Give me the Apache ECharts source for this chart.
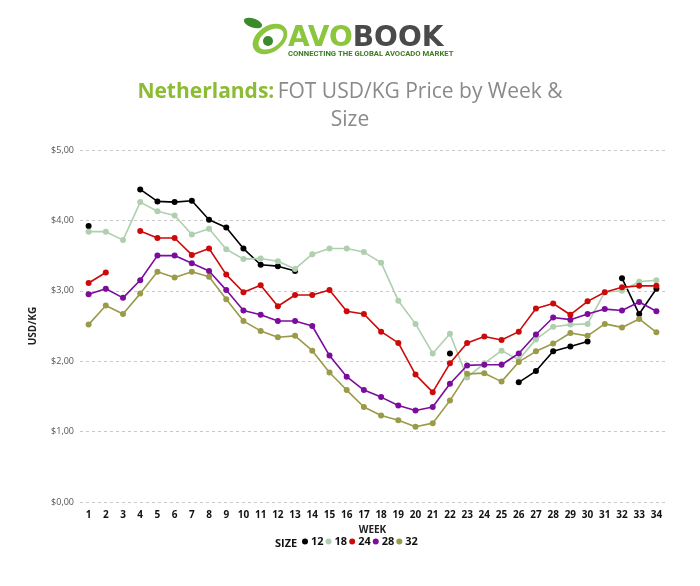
<!DOCTYPE html>
<html>
<head>
<meta charset="utf-8">
<script src="https://cdn.jsdelivr.net/npm/echarts@6/dist/echarts.min.js"></script>
<style>
html,body{margin:0;padding:0;background:#fff;}
#chart{width:700px;height:586px;}
</style>
</head>
<body>
<div id="chart"></div>
<script>
var weeks = ['1','2','3','4','5','6','7','8','9','10','11','12','13','14','15','16','17','18','19','20','21','22','23','24','25','26','27','28','29','30','31','32','33','34'];
var sizeNames = ['12','18','24','28','32'];
var size12 = [3.92,null,null,4.44,4.27,4.26,4.28,4.01,3.90,3.60,3.37,3.35,3.28,null,null,null,null,null,null,null,null,2.11,null,null,null,1.70,1.86,2.14,2.21,2.28,null,3.18,2.67,3.03];
var size18 = [3.84,3.84,3.72,4.26,4.13,4.07,3.80,3.88,3.59,3.45,3.46,3.42,3.31,3.52,3.60,3.60,3.55,3.40,2.86,2.53,2.11,2.39,1.77,1.97,2.15,2.02,2.31,2.49,2.52,2.53,2.98,3.00,3.13,3.15];
var size24 = [3.11,3.26,null,3.85,3.75,3.75,3.51,3.60,3.23,2.98,3.08,2.78,2.94,2.94,3.01,2.71,2.67,2.42,2.26,1.81,1.56,1.97,2.26,2.35,2.30,2.42,2.75,2.82,2.66,2.85,2.98,3.05,3.07,3.07];
var size28 = [2.95,3.03,2.90,3.15,3.50,3.50,3.39,3.28,3.01,2.72,2.66,2.57,2.57,2.50,2.08,1.78,1.59,1.49,1.37,1.30,1.35,1.68,1.94,1.95,1.95,2.11,2.38,2.62,2.59,2.67,2.74,2.72,2.84,2.71];
var size32 = [2.52,2.79,2.67,2.96,3.27,3.19,3.27,3.20,2.88,2.57,2.43,2.34,2.36,2.15,1.84,1.59,1.35,1.23,1.16,1.07,1.12,1.44,1.82,1.83,1.71,1.99,2.14,2.25,2.40,2.36,2.53,2.48,2.60,2.41];
var colors = ['#000000','#afcfae','#cc0a0a','#7b0c9c','#9a9a48'];

var seriesData = [size12,size18,size24,size28,size32];
var series = sizeNames.map(function(name,i){
  return {
    name: name,
    type: 'line',
    data: seriesData[i],
    symbol: 'circle',
    symbolSize: 6,
    connectNulls: false,
    lineStyle: {width: 1.6, color: colors[i]},
    itemStyle: {color: colors[i]},
    emphasis: {disabled: true}
  };
});

var chart = echarts.init(document.getElementById('chart'), null, {renderer:'canvas'});
chart.setOption({
  animation: false,
  color: colors,
  grid: {left: 80, right: 35, top: 150, bottom: 84, containLabel: false},
  xAxis: {
    type: 'category',
    data: weeks,
    boundaryGap: true,
    name: 'WEEK',
    nameLocation: 'middle',
    nameGap: 22,
    nameTextStyle: {fontFamily: 'Open Sans', fontWeight: 'bold', fontSize: 10, color: '#222'},
    axisLine: {show: false},
    axisTick: {show: false},
    axisLabel: {fontFamily: 'Open Sans', fontWeight: 'bold', fontSize: 10, color: '#111', margin: 8, interval: 0},
    splitLine: {show: false}
  },
  yAxis: {
    type: 'value',
    min: 0, max: 5, interval: 1,
    name: 'USD/KG',
    nameLocation: 'middle',
    nameGap: 42,
    nameRotate: 90,
    nameTextStyle: {fontFamily: 'Open Sans', fontWeight: 'bold', fontSize: 10, color: '#222'},
    axisLine: {show: false},
    axisTick: {show: false},
    axisLabel: {
      fontFamily: 'Open Sans', fontSize: 9, color: '#555', margin: 6,
      formatter: function(v){ return '$' + v.toFixed(2).replace('.', ','); }
    },
    splitLine: {show: true, lineStyle: {type: [3,3], color: '#c8c8c8', width: 1}}
  },
  legend: {
    data: sizeNames,
    left: 302,
    top: 536,
    padding: 0,
    icon: 'circle',
    itemWidth: 6,
    itemHeight: 6,
    itemGap: 2,
    textStyle: {fontFamily: 'Open Sans', fontWeight: 'bold', fontSize: 11, color: '#111', padding: [0,0,0,-2]}
  },
  graphic: [
    {type:'text', x: 275, y: 543.5, style:{text:'SIZE', fontFamily:'Open Sans', fontWeight:'bold', fontSize:11, fill:'#111', verticalAlign:'middle'}},
    // logo icon
    {type:'ellipse', shape:{cx:270, cy:39, rx:19, ry:13}, rotation: 0.6, originX:270, originY:39, style:{fill:'#8cc63f'}},
    {type:'ellipse', shape:{cx:271, cy:39, rx:14, ry:8.5}, rotation: 0.6, originX:271, originY:39, style:{fill:'#ffffff'}},
    {type:'circle', shape:{cx:268, cy:41, r:5}, style:{fill:'#3b8a2c'}},
    {type:'ellipse', shape:{cx:253, cy:23, rx:9.5, ry:4.5}, rotation: -0.35, originX:253, originY:23, style:{fill:'#3b8a2c'}},
    {type:'text', x: 288, y: 38.5, style:{
      text:'{g|AVO}{d|BOOK}',
      verticalAlign:'middle',
      rich:{
        g:{fontFamily:'DejaVu Sans', fontWeight:'bold', fontSize:28, fill:'#8cc63f'},
        d:{fontFamily:'DejaVu Sans', fontWeight:'bold', fontSize:28, fill:'#4a4a4a'}
      }
    }},
    {type:'text', x: 288, y: 54.5, style:{text:'CONNECTING THE GLOBAL AVOCADO MARKET', verticalAlign:'middle', fontFamily:'Roboto', fontWeight:'bold', fontSize:7.7, fill:'#3b7d22'}},
    // title
    {type:'text', left: 'center', top: 82, style:{
      text:'{g|Netherlands:} {n|FOT USD/KG Price by Week &}',
      rich:{
        g:{fontFamily:'Open Sans', fontWeight:'bold', fontSize:21, fill:'#8cbb34'},
        n:{fontFamily:'Open Sans', fontSize:21, fill:'#8a8a8a'}
      }
    }},
    {type:'text', left: 'center', top: 110, style:{text:'Size', fontFamily:'Open Sans', fontSize:21, fill:'#8a8a8a'}}
  ],
  series: series
});
</script>
</body>
</html>
